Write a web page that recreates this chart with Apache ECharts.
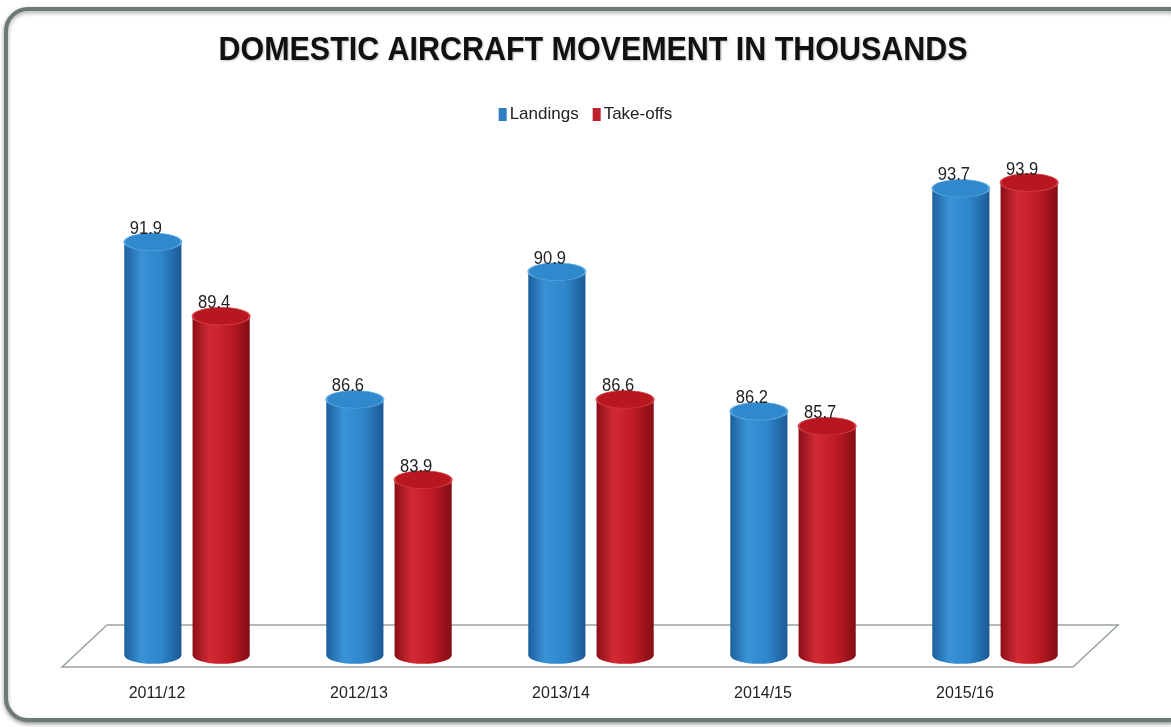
<!DOCTYPE html>
<html>
<head>
<meta charset="utf-8">
<script src="https://cdn.jsdelivr.net/npm/echarts@6/dist/echarts.min.js"></script>
<style>
html,body{margin:0;padding:0;background:#ffffff;}
#main{width:1171px;height:727px;}
</style>
</head>
<body>
<div id="main"></div>
<script>
var categories = ['2011/12', '2012/13', '2013/14', '2014/15', '2015/16'];
var landings = [91.9, 86.6, 90.9, 86.2, 93.7];
var takeoffs = [89.4, 83.9, 86.6, 85.7, 93.9];
var seriesNames = ['Landings', 'Take-offs'];
var titleText = 'DOMESTIC AIRCRAFT MOVEMENT IN THOUSANDS';

var Y_MIN = 78, Y_MAX = 96;
var FONT = '"Liberation Sans", Arial, sans-serif';

var palettes = [
  { body: ['#1d5f9c', '#3a93d6', '#2f86cb', '#1b5a95'], top: '#3089cd', rim: '#63aee4', legend: '#2e7fc1' },
  { body: ['#8c0f18', '#d22a34', '#bf1b25', '#830d15'], top: '#b9171f', rim: '#d8454c', legend: '#c0202a' }
];

function makeRender(idx) {
  var p = palettes[idx];
  return function (params, api) {
    var cat = api.value(0), v = api.value(1);
    var topPt = api.coord([cat, v]);
    var basePt = api.coord([cat, Y_MIN]);
    var band = api.size([1, 0])[0];
    var w = band * 0.283;
    var gap = band * 0.055;
    var cx = topPt[0] + (idx === 0 ? -(gap / 2 + w / 2) : (gap / 2 + w / 2));
    var r = w / 2;
    var sy = 0.31;
    var grad = new echarts.graphic.LinearGradient(0, 0, 1, 0, [
      { offset: 0, color: p.body[0] },
      { offset: 0.3, color: p.body[1] },
      { offset: 0.65, color: p.body[2] },
      { offset: 1, color: p.body[3] }
    ]);
    return {
      type: 'group',
      children: [
        { type: 'circle', shape: { cx: 0, cy: 0, r: r }, x: cx, y: basePt[1], scaleY: sy, style: { fill: grad } },
        { type: 'rect', shape: { x: cx - r, y: topPt[1], width: w, height: basePt[1] - topPt[1] }, style: { fill: grad } },
        { type: 'circle', shape: { cx: 0, cy: 0, r: r }, x: cx, y: topPt[1], scaleY: sy, style: { fill: p.top, stroke: p.rim, lineWidth: 2 } },
        { type: 'text', x: cx - 7, y: topPt[1] - r * sy + 5, scaleX: 0.92,
          style: { text: api.value(1).toFixed(1), fill: '#222222', font: '18px ' + FONT, textAlign: 'center', textVerticalAlign: 'bottom' } }
      ]
    };
  };
}

function toData(arr) { return arr.map(function (v, i) { return [i, v]; }); }

var chart = echarts.init(document.getElementById('main'), null, { renderer: 'canvas' });
chart.setOption({
  backgroundColor: '#ffffff',
  animation: false,
  graphic: [
    { type: 'rect', z: 0, shape: { x: 6, y: 9, width: 1185, height: 711, r: 22 },
      style: { fill: '#ffffff', stroke: '#6e7977', lineWidth: 4, shadowBlur: 4, shadowColor: 'rgba(0,0,0,0.35)', shadowOffsetY: 2 } },
    { type: 'polygon', z: 1, shape: { points: [[62, 667], [107, 625], [1118, 625], [1073, 667]] },
      style: { fill: '#ffffff', stroke: '#98a3a3', lineWidth: 1.5 } },
    { type: 'text', z: 5, x: 593, y: 51, scaleX: 0.895,
      style: { text: titleText, font: 'bold 34px ' + FONT, fill: '#111111', textAlign: 'center', textVerticalAlign: 'middle',
               textShadowColor: 'rgba(0,0,0,0.25)', textShadowBlur: 2, textShadowOffsetX: 1, textShadowOffsetY: 1 } }
  ],
  legend: {
    top: 101, left: 'center',
    icon: 'rect', itemWidth: 8, itemHeight: 13, itemGap: 14,
    textStyle: { fontFamily: FONT, fontSize: 17, color: '#222222', padding: [0, 0, 0, -2] },
    data: seriesNames
  },
  grid: { left: 86, right: 75, top: 120, bottom: 72 },
  xAxis: {
    type: 'category', data: categories,
    axisLine: { show: false }, axisTick: { show: false },
    axisLabel: { margin: 31, padding: [0, 60, 0, 0], fontFamily: FONT, fontSize: 16, color: '#222222' }
  },
  yAxis: { type: 'value', min: Y_MIN, max: Y_MAX, show: false, splitLine: { show: false } },
  series: [
    { name: seriesNames[0], type: 'custom', z: 3, renderItem: makeRender(0), itemStyle: { color: palettes[0].legend }, data: toData(landings), encode: { x: 0, y: 1 } },
    { name: seriesNames[1], type: 'custom', z: 3, renderItem: makeRender(1), itemStyle: { color: palettes[1].legend }, data: toData(takeoffs), encode: { x: 0, y: 1 } }
  ]
});
</script>
</body>
</html>
